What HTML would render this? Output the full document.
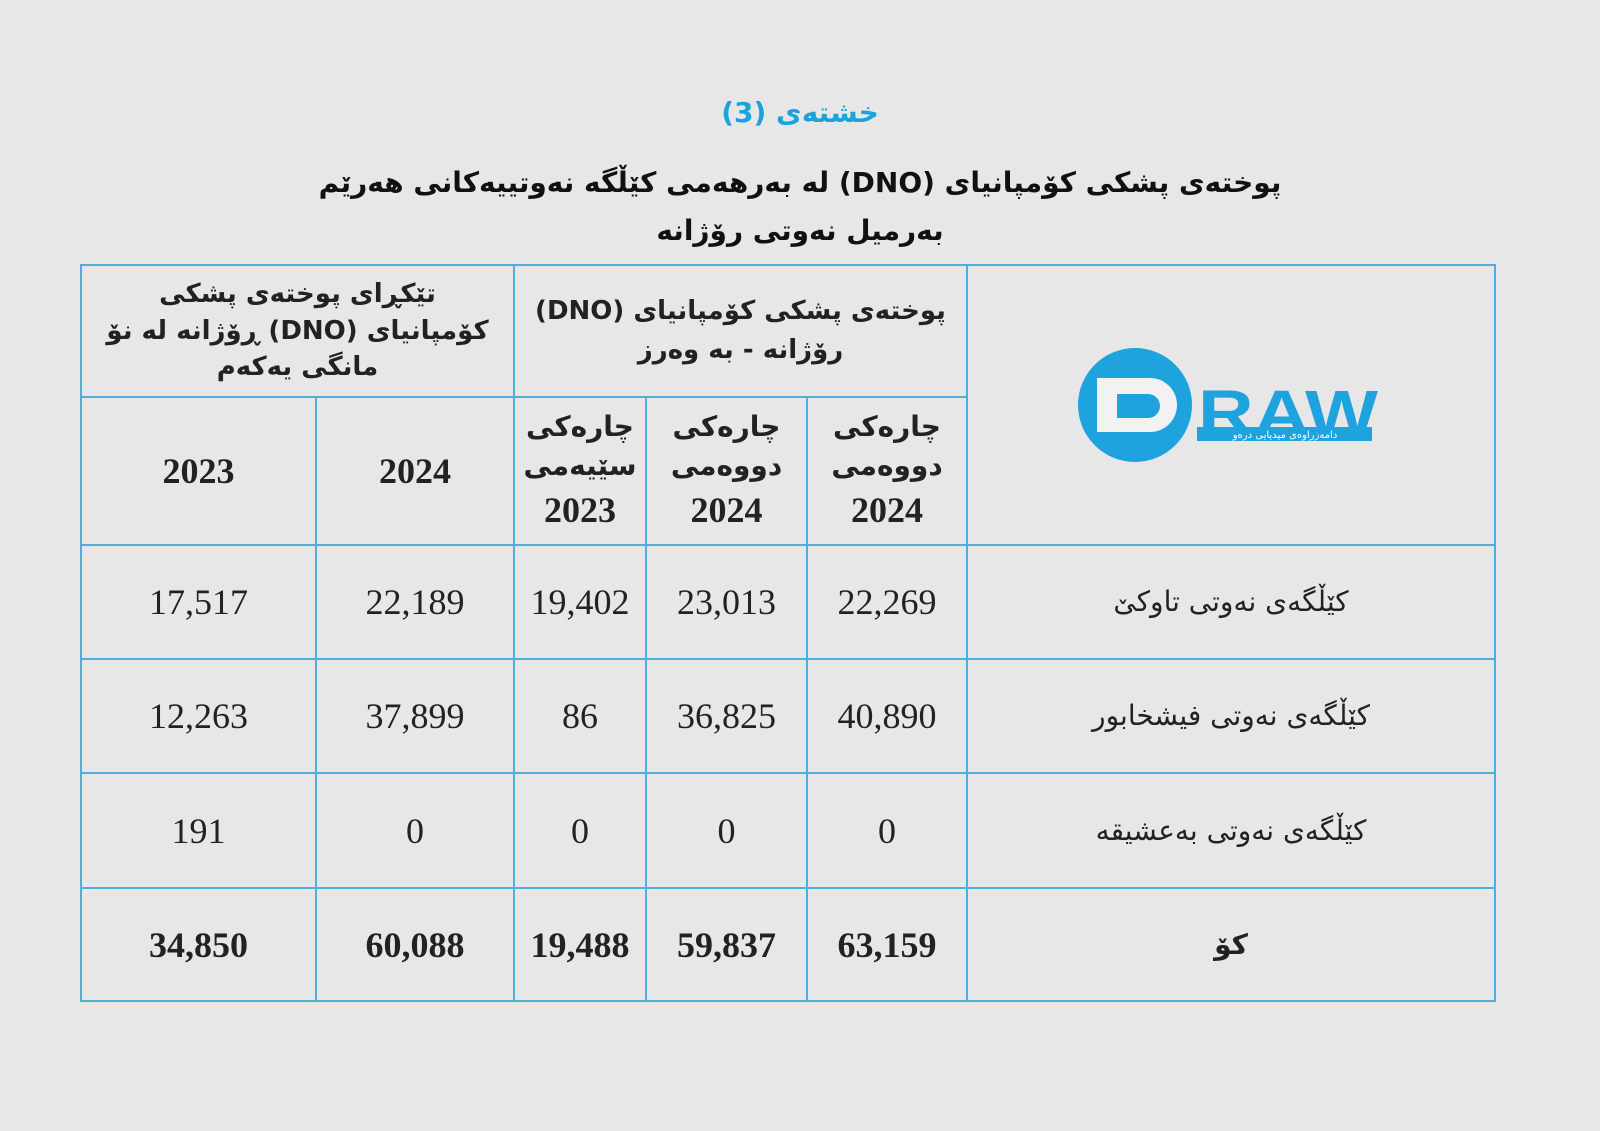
<!DOCTYPE html>
<html><head><meta charset="utf-8"><style>
body{margin:0;width:1600px;height:1131px;background:#e7e7e7;position:relative;overflow:hidden;font-family:"Liberation Serif","DejaVu Sans",serif;}
.t{position:absolute;left:0;width:1600px;text-align:center;font-family:"DejaVu Sans",sans-serif;font-weight:bold;color:#111;direction:rtl}
.ln{position:absolute;background:#4fb0e0}
.c{position:absolute;text-align:center;color:#222;font-size:36px;display:flex;align-items:center;justify-content:center}
.ku{font-family:"DejaVu Sans",sans-serif;direction:rtl;font-size:26px;font-weight:bold;line-height:1.5}
.q{flex-direction:column;line-height:1.4}
.q div{direction:rtl;font-family:"DejaVu Sans",sans-serif;font-weight:bold;font-size:28px}
.q .y{font-family:"Liberation Serif",serif;font-size:36px;direction:ltr}
</style></head><body>
<div class="t" style="top:96px;color:#1aa3dc;font-size:28px">خشتەی (3)</div>
<div class="t" style="top:166px;font-size:28px">پوختەی پشکی کۆمپانیای (DNO) لە بەرهەمی کێڵگە نەوتییەکانی هەرێم</div>
<div class="t" style="top:214px;font-size:28px">بەرمیل نەوتی رۆژانە</div>
<div class="ln" style="left:81px;top:264px;width:1414px;height:2px"></div>
<div class="ln" style="left:81px;top:396px;width:886px;height:2px"></div>
<div class="ln" style="left:81px;top:544px;width:1414px;height:2px"></div>
<div class="ln" style="left:81px;top:658px;width:1414px;height:2px"></div>
<div class="ln" style="left:81px;top:772px;width:1414px;height:2px"></div>
<div class="ln" style="left:81px;top:887px;width:1414px;height:2px"></div>
<div class="ln" style="left:81px;top:1000px;width:1414px;height:2px"></div>
<div class="ln" style="left:80px;top:264px;width:2px;height:738px"></div>
<div class="ln" style="left:315px;top:397px;width:2px;height:605px"></div>
<div class="ln" style="left:513px;top:264px;width:2px;height:738px"></div>
<div class="ln" style="left:645px;top:397px;width:2px;height:605px"></div>
<div class="ln" style="left:806px;top:397px;width:2px;height:605px"></div>
<div class="ln" style="left:966px;top:264px;width:2px;height:738px"></div>
<div class="ln" style="left:1494px;top:264px;width:2px;height:738px"></div>
<div class="c ku" style="left:100px;top:266px;width:395px;height:130px;line-height:1.4">تێکڕای پوختەی پشکی کۆمپانیای (DNO) ڕۆژانە لە نۆ مانگی یەکەم</div>
<div class="c ku" style="left:525px;top:266px;width:431px;height:130px">پوختەی پشکی کۆمپانیای (DNO) رۆژانە - بە وەرز</div>
<div class="c" style="left:82px;top:398px;width:233px;height:146px;font-weight:bold">2023</div>
<div class="c" style="left:317px;top:398px;width:196px;height:146px;font-weight:bold">2024</div>
<div class="c q" style="left:515px;top:398px;width:130px;height:146px"><div>چارەکی</div><div>سێیەمی</div><div class="y">2023</div></div>
<div class="c q" style="left:647px;top:398px;width:159px;height:146px"><div>چارەکی</div><div>دووەمی</div><div class="y">2024</div></div>
<div class="c q" style="left:808px;top:398px;width:158px;height:146px"><div>چارەکی</div><div>دووەمی</div><div class="y">2024</div></div>
<svg style="position:absolute;left:1070px;top:340px" width="320" height="130">
<circle cx="65" cy="65" r="57" fill="#1fa3de"/>
<path d="M27 38 H80 A27 27 0 0 1 80 92 H27 Z M47 54 V78 H78 A12 12 0 0 0 78 54 Z" fill="#f2f2f2" fill-rule="evenodd"/>
<text x="128" y="95" font-family="Liberation Sans" font-weight="bold" font-size="64" fill="#1fa3de" textLength="180" lengthAdjust="spacingAndGlyphs">RAW</text>
<rect x="127" y="87" width="175" height="14" fill="#1fa3de"/>
<text x="215" y="98" font-family="DejaVu Sans" font-size="10" fill="#fff" text-anchor="middle">دامەزراوەی میدیایی درەو</text>
</svg>
<div class="c" style="left:82px;top:546px;width:233px;height:112px">17,517</div>
<div class="c" style="left:317px;top:546px;width:196px;height:112px">22,189</div>
<div class="c" style="left:515px;top:546px;width:130px;height:112px">19,402</div>
<div class="c" style="left:647px;top:546px;width:159px;height:112px">23,013</div>
<div class="c" style="left:808px;top:546px;width:158px;height:112px">22,269</div>
<div class="c ku" style="left:968px;top:546px;width:526px;height:112px;font-weight:normal;font-size:28px">کێڵگەی نەوتی تاوکێ</div>
<div class="c" style="left:82px;top:660px;width:233px;height:112px">12,263</div>
<div class="c" style="left:317px;top:660px;width:196px;height:112px">37,899</div>
<div class="c" style="left:515px;top:660px;width:130px;height:112px">86</div>
<div class="c" style="left:647px;top:660px;width:159px;height:112px">36,825</div>
<div class="c" style="left:808px;top:660px;width:158px;height:112px">40,890</div>
<div class="c ku" style="left:968px;top:660px;width:526px;height:112px;font-weight:normal;font-size:28px">کێڵگەی نەوتی فیشخابور</div>
<div class="c" style="left:82px;top:774px;width:233px;height:113px">191</div>
<div class="c" style="left:317px;top:774px;width:196px;height:113px">0</div>
<div class="c" style="left:515px;top:774px;width:130px;height:113px">0</div>
<div class="c" style="left:647px;top:774px;width:159px;height:113px">0</div>
<div class="c" style="left:808px;top:774px;width:158px;height:113px">0</div>
<div class="c ku" style="left:968px;top:774px;width:526px;height:113px;font-weight:normal;font-size:28px">کێڵگەی نەوتی بەعشیقە</div>
<div class="c" style="left:82px;top:889px;width:233px;height:111px;font-weight:bold">34,850</div>
<div class="c" style="left:317px;top:889px;width:196px;height:111px;font-weight:bold">60,088</div>
<div class="c" style="left:515px;top:889px;width:130px;height:111px;font-weight:bold">19,488</div>
<div class="c" style="left:647px;top:889px;width:159px;height:111px;font-weight:bold">59,837</div>
<div class="c" style="left:808px;top:889px;width:158px;height:111px;font-weight:bold">63,159</div>
<div class="c ku" style="left:968px;top:889px;width:526px;height:111px;font-size:28px">کۆ</div>
</body></html>
